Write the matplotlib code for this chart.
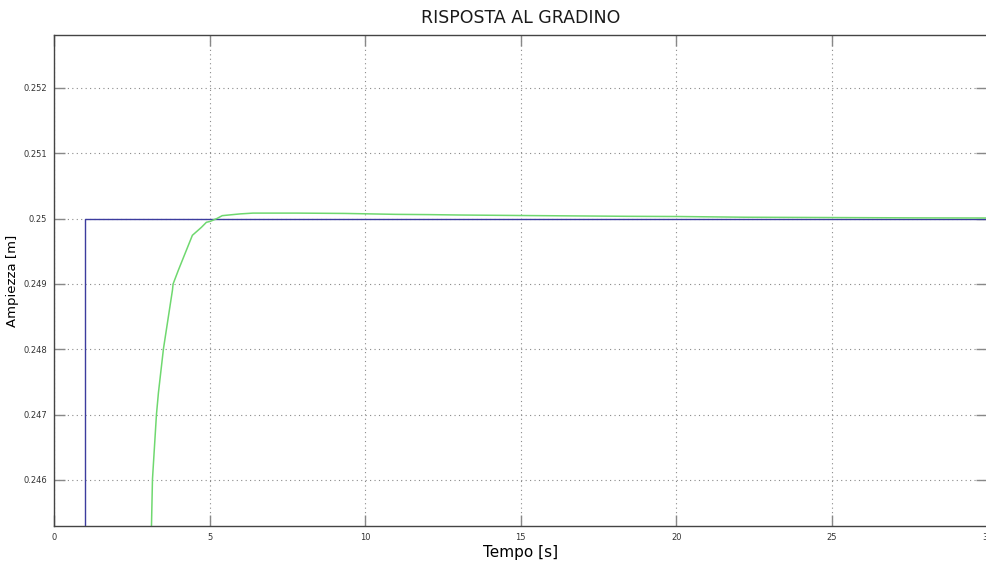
import matplotlib
matplotlib.use("Agg")
import matplotlib.pyplot as plt
from matplotlib.ticker import FuncFormatter

# Reference step (input) signal
t_ref = [0.0, 1.0, 1.0, 30.0]
y_ref = [0.0, 0.0, 0.25, 0.25]

# System output
t_out = [3.08, 3.125, 3.157, 3.285, 3.349, 3.51, 3.80, 3.82, 3.99, 4.44, 4.73, 4.89,
         5.02, 5.24, 5.40, 5.72, 5.98, 6.39, 7.8, 9.34, 10.98, 12.04, 13.0, 15.34,
         18.45, 20.05, 22.2, 27.7, 30.0]
y_out = [0.24430, 0.245294, 0.246011, 0.247002, 0.247337, 0.248008, 0.248907, 0.249,
         0.249212, 0.249745, 0.249867, 0.249944, 0.249959, 0.250005, 0.250046,
         0.250061, 0.250073, 0.250085, 0.250085, 0.250080, 0.250066, 0.250062,
         0.250056, 0.250047, 0.250036, 0.250033, 0.250022, 0.250012, 0.250010]

x_ticks = [0, 5, 10, 15, 20, 25, 30]
y_ticks = [0.246, 0.247, 0.248, 0.249, 0.25, 0.251, 0.252]

fig = plt.figure(figsize=(9.87, 5.61), dpi=100)
ax = fig.add_axes([0.0550, 0.0624, 0.9453, 0.8752])

ax.plot(t_ref, y_ref, color="#3c3c9e", lw=1.0)
ax.plot(t_out, y_out, color="#6fd86f", lw=1.1)

ax.set_xlim(0, 30)
ax.set_ylim(0.245296, 0.252811)
ax.set_xticks(x_ticks)
ax.set_yticks(y_ticks)
ax.yaxis.set_major_formatter(FuncFormatter(lambda v, p: f"{v:g}"))

ax.grid(True, linestyle=(0, (1, 3)), color="#8a8a8a", lw=0.8)
ax.tick_params(direction="in", length=8, width=1.0, color="#888888",
               labelsize=6, labelcolor="#333333", top=True, right=True, pad=5)
for s in ax.spines.values():
    s.set_color("#444444")
    s.set_linewidth(1.0)

ax.set_title("RISPOSTA AL GRADINO", fontsize=12.5, pad=9, color="#1a1a1a")
ax.set_xlabel("Tempo [s]", fontsize=11, labelpad=2)
ax.set_ylabel("Ampiezza [m]", fontsize=9.5, labelpad=3)

fig.savefig("out.png", dpi=100)
